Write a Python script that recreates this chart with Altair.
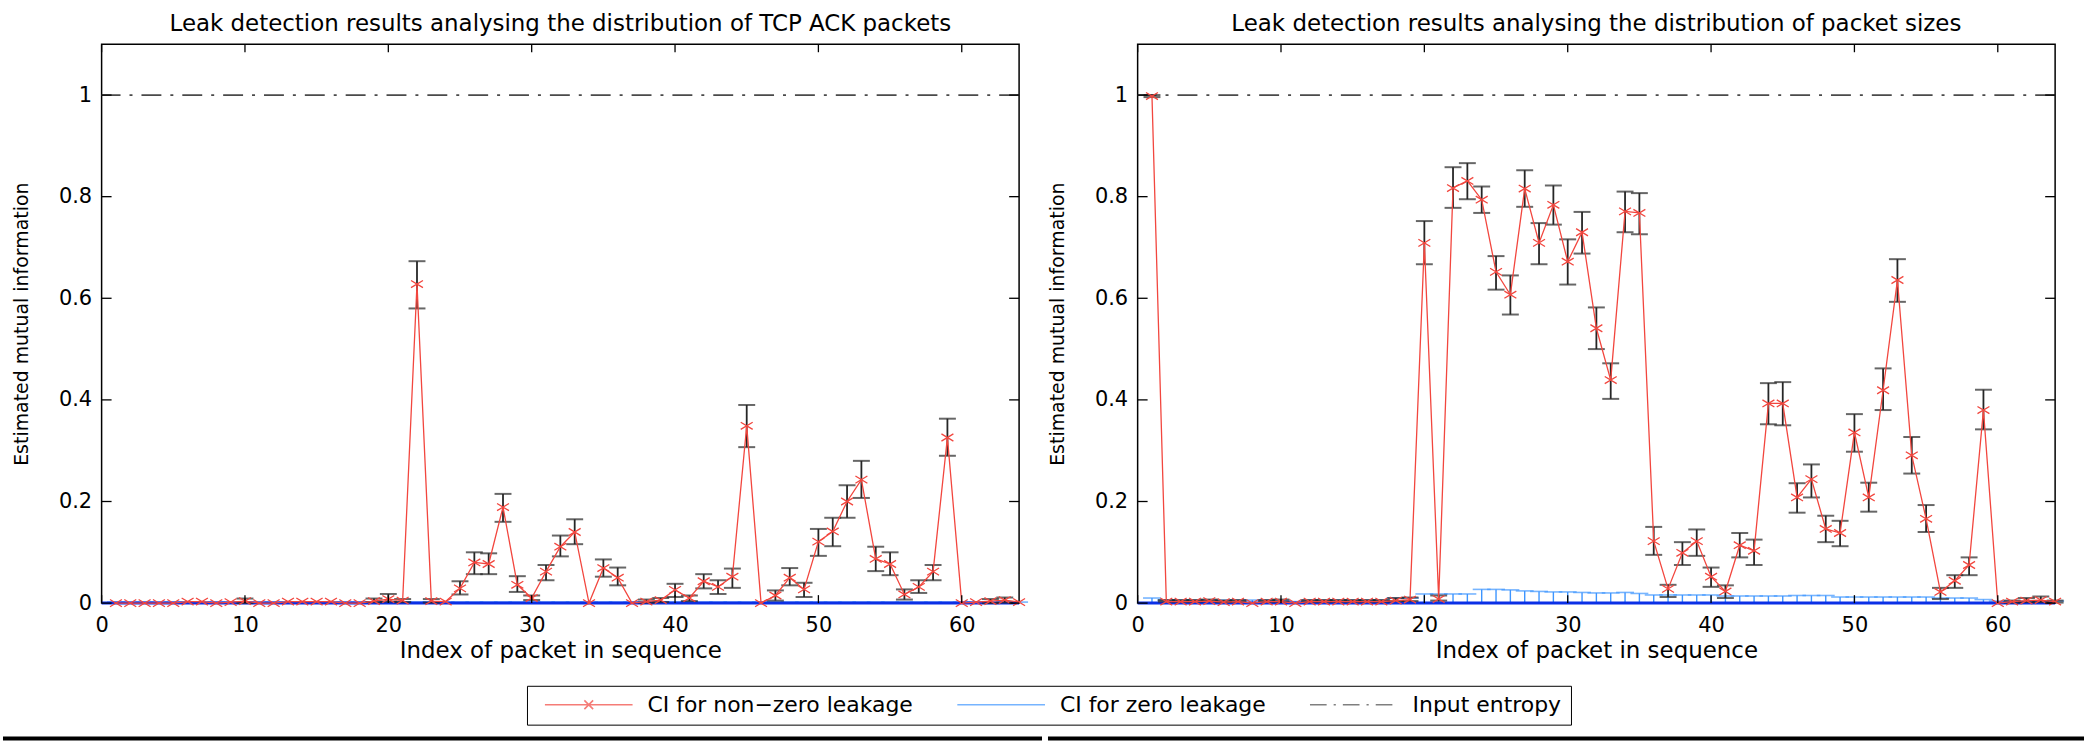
import altair as alt
import pandas as pd

FONT = "DejaVu Sans"
RED = "#f2463e"
DBLUE = "#0b2fe6"
LBLUE = "#3d95ff"
BLACK = "#262626"
GRAY = "#4a4a4a"

# ---------------- data ----------------
idx = list(range(1, 65))
x_ticks = [0, 10, 20, 30, 40, 50, 60]
y_ticks = [0, 0.2, 0.4, 0.6, 0.8, 1.0]
input_entropy = [1.0]
zero_leak_est = [0.0]

titles = ["Leak detection results analysing the distribution of TCP ACK packets",
          "Leak detection results analysing the distribution of packet sizes"]
series_names = ["CI for non\u2212zero leakage", "CI for zero leakage", "Input entropy"]

# Left: TCP ACK packets
ack_est = [0.0, 0.0, 0.0, 0.0, 0.0, 0.003, 0.003, 0.0, 0.002, 0.004,
           0.0, 0.0, 0.003, 0.003, 0.003, 0.003, 0.0, 0.0, 0.004, 0.008,
           0.005, 0.628, 0.004, 0.003, 0.029, 0.08, 0.077, 0.189, 0.036, 0.01,
           0.062, 0.111, 0.14, 0.0, 0.069, 0.05, 0.0, 0.003, 0.006, 0.026,
           0.01, 0.043, 0.032, 0.052, 0.349, 0.0, 0.015, 0.05, 0.027, 0.121,
           0.141, 0.2, 0.243, 0.087, 0.077, 0.017, 0.032, 0.062, 0.326, 0.0,
           0.002, 0.004, 0.006, 0.002]
ack_lo = [0.0, 0.0, 0.0, 0.0, 0.0, 0.003, 0.003, 0.0, 0.002, 0.0,
          0.0, 0.0, 0.003, 0.003, 0.003, 0.003, 0.0, 0.0, 0.002, 0.003,
          0.002, 0.58, 0.001, 0.003, 0.017, 0.057, 0.057, 0.16, 0.022, 0.006,
          0.045, 0.092, 0.116, 0.0, 0.052, 0.035, 0.0, 0.001, 0.002, 0.012,
          0.004, 0.029, 0.018, 0.03, 0.307, 0.0, 0.005, 0.035, 0.012, 0.093,
          0.112, 0.168, 0.207, 0.063, 0.055, 0.007, 0.02, 0.045, 0.29, 0.0,
          0.002, 0.0, 0.001, 0.002]
ack_hi = [0.0, 0.0, 0.0, 0.0, 0.0, 0.003, 0.003, 0.0, 0.002, 0.009,
          0.0, 0.0, 0.003, 0.003, 0.003, 0.003, 0.0, 0.0, 0.009, 0.018,
          0.008, 0.673, 0.008, 0.003, 0.043, 0.1, 0.098, 0.215, 0.053, 0.015,
          0.075, 0.133, 0.165, 0.0, 0.086, 0.07, 0.0, 0.007, 0.01, 0.038,
          0.015, 0.057, 0.045, 0.068, 0.39, 0.0, 0.025, 0.069, 0.04, 0.146,
          0.168, 0.232, 0.28, 0.111, 0.1, 0.027, 0.045, 0.075, 0.363, 0.0,
          0.002, 0.008, 0.011, 0.002]
ack_zero_hi = [0.002, 0.002, 0.002, 0.002, 0.002, 0.002, 0.002, 0.002, 0.002, 0.002,
               0.002, 0.002, 0.002, 0.002, 0.002, 0.002, 0.002, 0.002, 0.002, 0.002,
               0.002, 0.002, 0.002, 0.002, 0.002, 0.002, 0.002, 0.002, 0.002, 0.002,
               0.002, 0.002, 0.002, 0.002, 0.002, 0.002, 0.002, 0.002, 0.002, 0.002,
               0.002, 0.002, 0.002, 0.002, 0.002, 0.002, 0.002, 0.002, 0.002, 0.002,
               0.002, 0.002, 0.002, 0.002, 0.002, 0.002, 0.002, 0.002, 0.002, 0.002,
               0.002, 0.002, 0.002, 0.002]

# Right: packet sizes
size_est = [0.998, 0.003, 0.003, 0.003, 0.004, 0.002, 0.003, 0.0, 0.003, 0.003,
            0.0, 0.003, 0.003, 0.003, 0.003, 0.003, 0.003, 0.005, 0.007, 0.709,
            0.008, 0.817, 0.831, 0.794, 0.652, 0.607, 0.816, 0.709, 0.784, 0.672,
            0.73, 0.541, 0.439, 0.771, 0.768, 0.122, 0.028, 0.099, 0.122, 0.052,
            0.023, 0.114, 0.103, 0.393, 0.393, 0.208, 0.244, 0.146, 0.138, 0.336,
            0.208, 0.419, 0.636, 0.291, 0.166, 0.022, 0.044, 0.075, 0.38, 0.0,
            0.003, 0.005, 0.006, 0.003]
size_lo = [0.996, 0.003, 0.003, 0.003, 0.004, 0.002, 0.003, 0.0, 0.003, 0.003,
           0.0, 0.003, 0.003, 0.003, 0.003, 0.003, 0.003, 0.004, 0.004, 0.667,
           0.005, 0.778, 0.795, 0.768, 0.617, 0.568, 0.78, 0.667, 0.745, 0.627,
           0.688, 0.5, 0.402, 0.73, 0.726, 0.095, 0.012, 0.075, 0.093, 0.032,
           0.01, 0.09, 0.075, 0.352, 0.35, 0.178, 0.208, 0.12, 0.112, 0.298,
           0.18, 0.38, 0.593, 0.255, 0.14, 0.008, 0.03, 0.055, 0.342, 0.0,
           0.001, 0.002, 0.002, 0.001]
size_hi = [1.0, 0.006, 0.006, 0.006, 0.007, 0.005, 0.006, 0.0, 0.006, 0.007,
           0.0, 0.006, 0.006, 0.006, 0.006, 0.006, 0.006, 0.01, 0.011, 0.752,
           0.015, 0.858, 0.866, 0.82, 0.683, 0.645, 0.852, 0.748, 0.822, 0.716,
           0.77, 0.582, 0.472, 0.81, 0.807, 0.15, 0.036, 0.12, 0.145, 0.07,
           0.035, 0.138, 0.125, 0.433, 0.435, 0.236, 0.273, 0.172, 0.162, 0.372,
           0.237, 0.462, 0.677, 0.327, 0.193, 0.03, 0.055, 0.09, 0.42, 0.0,
           0.005, 0.01, 0.013, 0.005]
size_zero_hi = [0.01, 0.006, 0.006, 0.006, 0.006, 0.006, 0.006, 0.006, 0.006, 0.005,
                0.003, 0.006, 0.006, 0.006, 0.006, 0.006, 0.006, 0.01, 0.01, 0.018,
                0.018, 0.018, 0.018, 0.027, 0.027, 0.026, 0.024, 0.023, 0.022, 0.022,
                0.021, 0.02, 0.02, 0.021, 0.019, 0.016, 0.016, 0.016, 0.016, 0.016,
                0.014, 0.014, 0.014, 0.014, 0.014, 0.015, 0.015, 0.015, 0.012, 0.012,
                0.012, 0.012, 0.012, 0.012, 0.012, 0.01, 0.01, 0.01, 0.007, 0.004,
                0.004, 0.004, 0.004, 0.004]

# ---------------- layout ----------------
W, H = 921, 561

x_scale = alt.Scale(domain=[0, 64], nice=False, zero=False)
y_scale = alt.Scale(domain=[0, 1.1], nice=False)
x_axis = alt.Axis(values=x_ticks, ticks=False, domain=False, grid=False,
                  labelPadding=12, labelFont=FONT, labelFontSize=21, labelColor="black",
                  labelFlush=False, labelOverlap=False,
                  title="Index of packet in sequence", titleFont=FONT, titleFontSize=23,
                  titleFontWeight="normal", titleColor="black", titlePadding=4)
y_axis = alt.Axis(values=y_ticks, format="~g", ticks=False, domain=False, grid=False,
                  labelPadding=10, labelFont=FONT, labelFontSize=21, labelColor="black",
                  labelFlush=False, labelOverlap=False,
                  title="Estimated mutual information", titleFont=FONT, titleFontSize=19,
                  titleFontWeight="normal", titleColor="black", titlePadding=27)


def X(f):
    return alt.X(f"{f}:Q", scale=x_scale, axis=x_axis)


def Y(f):
    return alt.Y(f"{f}:Q", scale=y_scale, axis=y_axis)


XPATH = "M-1,-0.6L1,0.6M-1,0.6L1,-0.6"
LEG_RED = "M-1,0L1,0M-0.1,-0.1L0.1,0.1M-0.1,0.1L0.1,-0.1"
LEG_BLUE = "M-1,0L1,0"
LEG_DASHDOT = ("M-1,0L-0.62,0M-0.46,0L-0.41,0M-0.25,0L0.13,0"
               "M0.29,0L0.34,0M0.5,0L0.88,0")

legend = alt.Legend(title=None, orient="none", legendX=427, legendY=644,
                    direction="horizontal", columns=3,
                    symbolSize=7744, symbolStrokeWidth=1.6, clipHeight=20,
                    symbolOffset=8, labelOffset=14, columnPadding=35, labelLimit=0,
                    labelFont=FONT, labelFontSize=22, labelColor="black",
                    strokeColor="black", fillColor="white", padding=9)


def panel(est, lo, hi, zhi, title, with_legend, strip_x, strip_x2):
    df = pd.DataFrame({"idx": idx, "est": est, "lo": lo, "hi": hi, "zhi": zhi})
    base = alt.Chart(df)
    layers = []
    layers.append(alt.Chart(pd.DataFrame({"h": input_entropy})).mark_rule(
        color=GRAY, strokeWidth=1.8, strokeDash=[20, 9, 3, 9]).encode(y=Y("h")))
    layers.append(base.mark_rule(color=LBLUE, strokeWidth=1.4).encode(
        x=X("idx"), y=Y("zhi"), y2=alt.datum(0)))
    layers.append(base.mark_tick(orient="horizontal", size=18, thickness=1.6,
                                 color=LBLUE).encode(x=X("idx"), y=Y("zhi")))
    layers.append(alt.Chart(pd.DataFrame({"z": zero_leak_est})).mark_rule(
        color=DBLUE, strokeWidth=3).encode(y=Y("z")))
    bars = base.transform_filter("datum.hi > datum.lo")
    layers.append(bars.mark_rule(color=BLACK, strokeWidth=1.8).encode(
        x=X("idx"), y=Y("lo"), y2="hi:Q"))
    layers.append(bars.mark_tick(orient="horizontal", size=17, thickness=2,
                                 color=BLACK).encode(x=X("idx"), y=Y("lo")))
    layers.append(bars.mark_tick(orient="horizontal", size=17, thickness=2,
                                 color=BLACK).encode(x=X("idx"), y=Y("hi")))
    layers.append(base.mark_line(color=RED, strokeWidth=1.3).encode(x=X("idx"), y=Y("est")))
    layers.append(base.mark_point(shape=XPATH, size=144, color=RED, strokeWidth=1.3,
                                  filled=False, opacity=1).encode(x=X("idx"), y=Y("est")))
    xt = alt.Chart(pd.DataFrame({"t": x_ticks}))
    yt = alt.Chart(pd.DataFrame({"t": y_ticks}))
    layers.append(xt.mark_rule(color="black", strokeWidth=1.3).encode(
        x=X("t"), y=alt.value(H), y2=alt.value(H - 8)))
    layers.append(xt.mark_rule(color="black", strokeWidth=1.3).encode(
        x=X("t"), y=alt.value(0), y2=alt.value(8)))
    layers.append(yt.mark_rule(color="black", strokeWidth=1.3).encode(
        y=Y("t"), x=alt.value(0), x2=alt.value(10)))
    layers.append(yt.mark_rule(color="black", strokeWidth=1.3).encode(
        y=Y("t"), x=alt.value(W), x2=alt.value(W - 10)))
    layers.append(alt.Chart(pd.DataFrame({"s": [0]})).mark_rule(
        color="black", strokeWidth=4).encode(
        x=alt.value(strip_x), x2=alt.value(strip_x2), y=alt.value(697)))
    if with_legend:
        leg_df = pd.DataFrame({"series": series_names})
        layers.append(alt.Chart(leg_df).transform_filter("false").mark_point(
            filled=False, strokeWidth=1.6).encode(
            color=alt.Color("series:N", scale=alt.Scale(domain=series_names,
                                                        range=[RED, LBLUE, GRAY]),
                            legend=legend),
            shape=alt.Shape("series:N", scale=alt.Scale(domain=series_names,
                                                        range=[LEG_RED, LEG_BLUE, LEG_DASHDOT]),
                            legend=legend)))
    return alt.layer(*layers).properties(
        width=W, height=H,
        title=alt.TitleParams(title, font=FONT, fontSize=23, fontWeight="normal",
                              color="black", anchor="middle", baseline="alphabetic",
                              offset=-10))


left = panel(ack_est, ack_lo, ack_hi, ack_zero_hi, titles[0], True, -99, 944)
right = panel(size_est, size_lo, size_hi, size_zero_hi, titles[1], False, -90, 950)

chart = alt.hconcat(left, right, spacing=0).properties(
    padding={"left": 0, "top": 10, "right": 0, "bottom": 0}
).configure_view(stroke="black", strokeWidth=1.5)

chart.save("out.html", embed_options={"renderer": "svg", "actions": False})
